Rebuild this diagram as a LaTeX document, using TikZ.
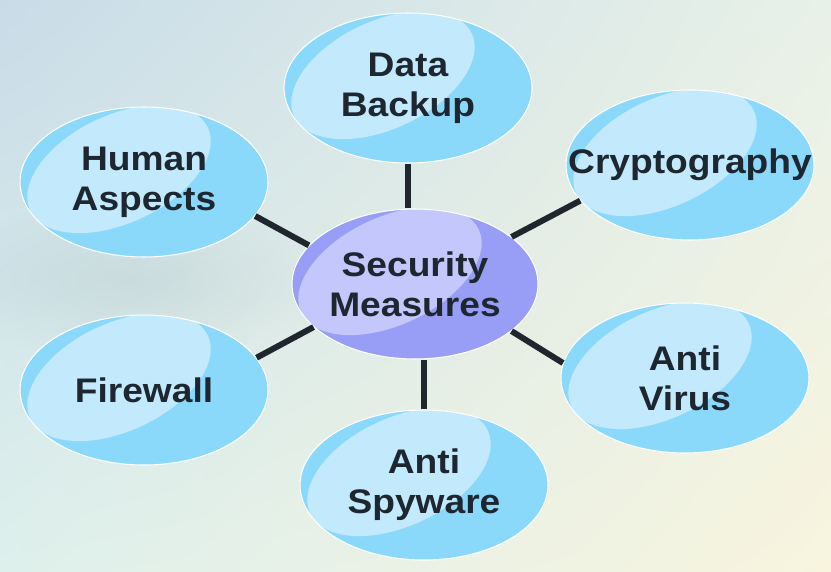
\documentclass[tikz,border=0pt]{standalone}
\usepackage{fontspec}
\usetikzlibrary{shapes.geometric, shadings, fadings}
\newfontfamily\bubfont[FakeStretch=1.09]{Liberation Sans}

\definecolor{bubblue}{RGB}{138,217,251}
\definecolor{bubhigh}{RGB}{194,234,252}
\definecolor{secblue}{RGB}{152,158,245}
\definecolor{sechigh}{RGB}{195,199,251}
\definecolor{linkcol}{RGB}{31,38,45}
\definecolor{txtcol}{RGB}{30,38,48}
\definecolor{bgtl}{RGB}{200,220,232}
\definecolor{bgtr}{RGB}{232,241,232}
\definecolor{bgbl}{RGB}{222,240,236}
\definecolor{bgbr}{RGB}{248,244,222}
\definecolor{haze}{RGB}{160,182,186}

\tikzfading[name=softblob, inner color=transparent!0, outer color=transparent!100]

\tikzset{
	blob/.style 2 args={ellipse, inner sep=0pt, minimum width=4.96cm, minimum height=3cm,
		fill=#1, draw=white, line width=0.6pt,
		path picture={\fill[#2] (path picture bounding box.center) ++(-0.5cm,0.26cm)
			circle [x radius=1.96cm, y radius=1.08cm, rotate=25];}},
	bub/.style={blob={bubblue}{bubhigh}},
	core/.style={blob={secblue}{sechigh}, minimum width=4.92cm},
	txt/.style={font=\bubfont\bfseries\fontsize{19.4pt}{22.8pt}\selectfont, text=txtcol, align=center},
	link/.style={draw=linkcol, line width=3.4pt}
}

\begin{document}
\begin{tikzpicture}[x=0.02cm, y=-0.02cm]
	
	\useasboundingbox (0,0) rectangle (831,571);
	
	% background
	\shade[upper left=bgtl, upper right=bgtr, lower left=bgbl, lower right=bgbr] (0,0) rectangle (831,571);
	\fill[haze, opacity=0.25, path fading=softblob] (130,280) ellipse (4cm and 1.6cm);
	
	% centre ellipse
	\node[core, label={[txt]center:Security\\Measures}] (sec) at (415,284) {};
	
	% outer ellipses
	\node[bub, label={[txt]center:Data\\Backup}] (db) at (408,88) {};
	\node[bub, label={[txt]center:Human\\Aspects}] (hum) at (144,182) {};
	\node[bub, label={[txt]center:Cryptography}] (cry) at (690,165) {};
	\node[bub, label={[txt]center:Firewall}] (fw) at (144,390) {};
	\node[bub, label={[txt]center:Anti\\Virus}] (av) at (685,378) {};
	\node[bub, label={[txt]center:Anti\\Spyware}] (spy) at (424,485) {};
	
	% connectors
	\draw[link] (db.south) -- (db.south |- sec.north);
	\draw[link] (spy.north) -- (spy.north |- sec.south);
	\foreach \a/\b in {hum.-17/sec.160, cry.198/sec.26, fw.16/sec.203, av.173/sec.-26}
	\draw[link] (\a) -- (\b);
	
\end{tikzpicture}
\end{document}
